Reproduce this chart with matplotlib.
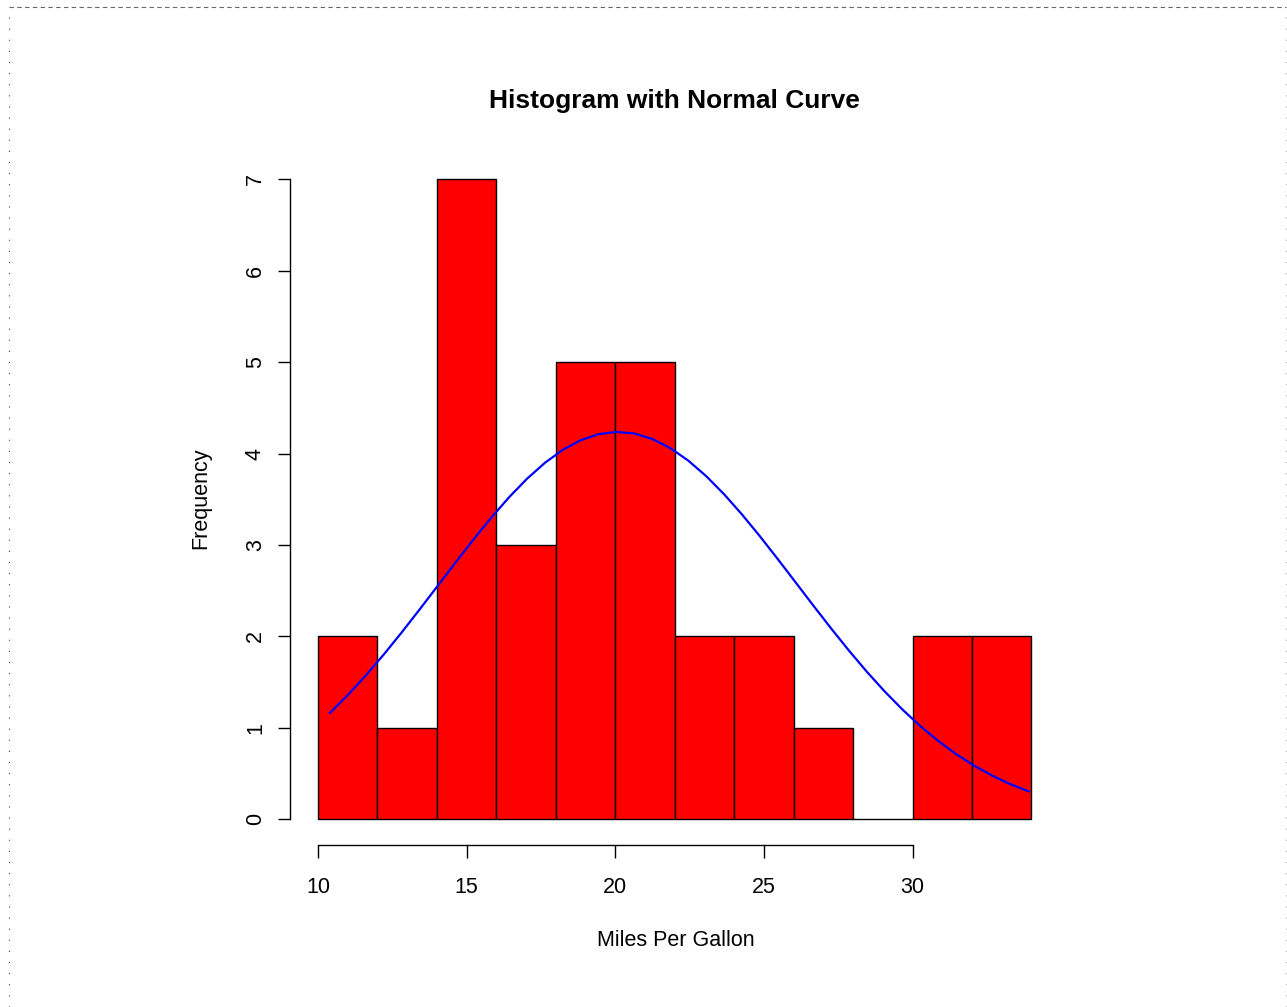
import matplotlib
matplotlib.use("Agg")
import matplotlib.pyplot as plt
from matplotlib.lines import Line2D
import numpy as np

plt.rcParams['font.family'] = ['Liberation Sans', 'DejaVu Sans']

# histogram of mpg, bins of width 2
bin_edges = [10, 12, 14, 16, 18, 20, 22, 24, 26, 28, 30, 32, 34]
counts = [2, 1, 7, 3, 5, 5, 2, 2, 1, 0, 2, 2]

# normal fit parameters
mpg_mean = 20.09
mpg_sd = 6.027
n_obs = 32
x_min, x_max = 10.4, 33.9

xticks = [10, 15, 20, 25, 30]
yticks = [0, 1, 2, 3, 4, 5, 6, 7]

W, H = 1287, 1007
fig = plt.figure(figsize=(W / 100, H / 100), dpi=100)
ax = fig.add_axes([289.5 / W, 1 - 845 / H, (1060 - 289.5) / W, (845 - 153.5) / H])

lefts = bin_edges[:-1]
widths = np.diff(bin_edges)
ax.bar(lefts, counts, width=widths, align='edge', color='red', edgecolor='black', linewidth=1)

# normal curve scaled to counts
xfit = np.linspace(x_min, x_max, 40)
yfit = np.exp(-0.5 * ((xfit - mpg_mean) / mpg_sd) ** 2) / (mpg_sd * np.sqrt(2 * np.pi))
yfit = yfit * widths[0] * n_obs
ax.plot(xfit, yfit, color='blue', lw=1.6)

ax.set_xlim(9.04, 34.96)
ax.set_ylim(-0.28, 7.28)
ax.spines['top'].set_visible(False)
ax.spines['right'].set_visible(False)
ax.spines['left'].set_bounds(0, 7)
ax.spines['bottom'].set_bounds(10, 30)
ax.spines['left'].set_linewidth(1)
ax.spines['bottom'].set_linewidth(1)

ax.set_xticks(xticks)
ax.set_yticks(yticks)
ax.tick_params(length=9, width=1, labelsize=15.5)
ax.tick_params(axis='x', pad=14)
ax.tick_params(axis='y', pad=8)
for lab in ax.get_yticklabels():
    lab.set_rotation(90)
    lab.set_va('center')

fig.text(676 / W, 1 - 941 / H, 'Miles Per Gallon', ha='center', va='center', fontsize=15.5)
fig.text(201 / W, 1 - 498 / H, 'Frequency', ha='center', va='center', fontsize=15.5, rotation=90)
fig.text(674.8 / W, 1 - 101 / H, 'Histogram with Normal Curve', ha='center', va='center',
         fontsize=19, fontweight='bold')

# page border
fig.add_artist(Line2D([9 / W, 1286 / W], [1 - 7 / H, 1 - 7 / H], color='#666666', lw=0.8, ls=(0, (4, 3))))
fig.add_artist(Line2D([9 / W, 9 / W], [0, 1 - 7 / H], color='#444444', lw=0.8, ls=(0, (1, 9))))
fig.add_artist(Line2D([1286 / W, 1286 / W], [0, 1 - 7 / H], color='#aaaaaa', lw=0.8, ls=(0, (1, 9))))

fig.savefig('out.png', dpi=100)
